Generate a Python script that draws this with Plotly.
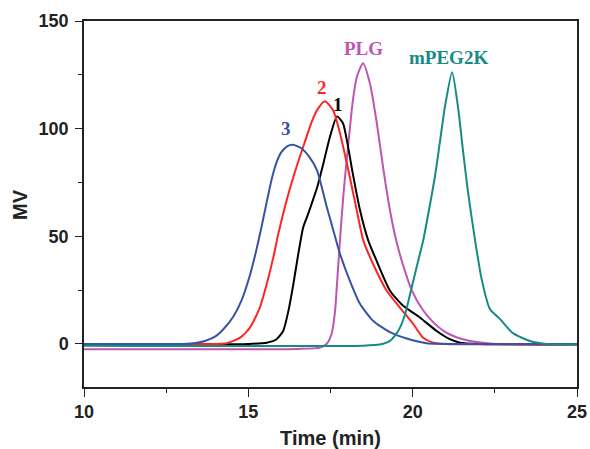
import plotly.graph_objects as go

# ---- data ----
x3 = [10, 13.0, 13.4, 13.7, 14.0, 14.24, 14.54, 14.8, 15.05, 15.25, 15.41, 15.54, 15.71, 15.85, 16.0,
      16.18, 16.36, 16.6, 16.85, 17.09, 17.38, 17.6, 17.79, 18.09, 18.4, 18.8, 19.31, 19.82, 20.43, 22, 25]
y3 = [0, 0, 0.4, 1.5, 3.5, 6.8, 12.6, 20.5, 32, 44, 55, 64.5, 76.5, 84, 89,
      91.8, 92.5, 91, 87, 80.6, 64, 52, 41.8, 29.3, 18.5, 10.7, 5.5, 2.5, 0.3, 0, 0]

x2 = [10, 14.0, 14.34, 14.75, 15.05, 15.35, 15.56, 15.76, 15.91, 16.17, 16.42, 16.7, 16.95, 17.13, 17.33,
      17.58, 17.79, 18.0, 18.3, 18.5, 18.8, 19.21, 19.61, 20.02, 20.32, 20.63, 21, 25]
y2 = [0, 0, 0.3, 2.9, 7.6, 16.9, 27.8, 40.2, 51, 67, 80, 93, 104, 109.5, 112.7,
      108.5, 97.8, 83.8, 62, 48, 37, 24.7, 16.9, 9.2, 2.9, 0.6, 0, 0]

x1 = [10, 15.0, 15.56, 15.86, 16.06, 16.22, 16.37, 16.52, 16.67, 16.82, 16.96, 17.1, 17.27, 17.48,
      17.7, 17.88, 18.0, 18.18, 18.4, 18.65, 18.9, 19.31, 19.71, 20.22, 20.73, 21.13, 21.44, 22, 25]
y1 = [0, 0, 0.6, 2.2, 6, 15.4, 27.8, 41.8, 54.2, 60.4, 66.6, 73, 83, 96,
      105.7, 102.5, 94.5, 79, 62, 48, 38.7, 24.7, 17.7, 12.3, 6, 2.2, 0.6, 0, 0]

x_plg = [10, 16.5, 17.18, 17.38, 17.53, 17.64, 17.7, 17.77, 17.84, 17.92, 18.03, 18.18, 18.3, 18.49,
         18.7, 18.91, 19.1, 19.31, 19.5, 19.7, 19.97, 20.3, 20.6, 21.0, 21.5, 22.0, 22.6, 25]
y_plg = [-2.5, -2.3, -1.7, 0, 4.5, 15.4, 28.5, 44, 59, 74, 91, 113, 124, 130.4,
         121, 102.5, 82, 62, 48, 37, 25, 16, 10.5, 5.5, 2.3, 0.8, 0, -0.5]

x_peg = [10, 18.5, 19.0, 19.31, 19.56, 19.77, 19.92, 20.07, 20.22, 20.32, 20.47, 20.68, 20.83, 20.98,
         21.2, 21.38, 21.53, 21.68, 21.9, 22.1, 22.35, 22.66, 23.05, 23.57, 24.1, 25]
y_peg = [-0.8, -0.8, -0.3, 1.4, 6, 13.8, 23.1, 32.5, 41.8, 48, 60, 78, 94, 110,
         126.2, 110, 90, 71, 48, 30, 16.2, 11.5, 5, 1.4, 0, -0.3]

series = [
    ("PLG", x_plg, y_plg, "#BE55B0"),
    ("1", x1, y1, "#000000"),
    ("2", x2, y2, "#FF2424"),
    ("3", x3, y3, "#3753A5"),
    ("mPEG2K", x_peg, y_peg, "#168A85"),
]

labels = [
    ("3", 16.14, 100, "#3753A5"),
    ("2", 17.24, 119, "#FF2424"),
    ("1", 17.73, 111, "#000000"),
    ("PLG", 18.49, 137, "#BE55B0"),
    ("mPEG2K", 21.1, 133, "#168A85"),
]

fig = go.Figure()
for name, xs, ys, col in series:
    fig.add_trace(go.Scatter(x=xs, y=ys, mode="lines", name=name,
                             line=dict(color=col, width=2, shape="spline", smoothing=0.6),
                             showlegend=False, hoverinfo="skip"))

for txt, lx, ly, col in labels:
    fig.add_annotation(x=lx, y=ly, text=txt, showarrow=False,
                       font=dict(family="Liberation Serif, Times New Roman, serif",
                                 size=19, color=col, weight="bold"))

title_font = dict(family="Liberation Sans, Arial, sans-serif", size=20, color="#222222", weight="bold")
axis_font = dict(family="Liberation Sans, Arial, sans-serif", size=18, color="#222222", weight="bold")

# y-axis title as a rotated annotation (placed in the left margin)
fig.add_annotation(text="MV", xref="paper", yref="paper", x=-0.13, y=0.5,
                   xanchor="center", yanchor="middle", textangle=-90, showarrow=False,
                   font=title_font)

fig.update_layout(
    width=590, height=449,
    margin=dict(l=84, r=13, t=21, b=62, autoexpand=False),
    paper_bgcolor="white", plot_bgcolor="white",
    xaxis=dict(range=[10, 25], tick0=10, dtick=5, ticks="outside", ticklen=8, tickwidth=1.3,
               tickcolor="#222222", showline=True, linecolor="#222222", linewidth=1.5, mirror=True,
               showgrid=False, zeroline=False, tickfont=axis_font, automargin=False,
               minor=dict(dtick=2.5, tick0=10, ticks="outside", ticklen=4, tickwidth=1.3, tickcolor="#222222"),
               title=dict(text="Time (min)", font=title_font, standoff=10)),
    yaxis=dict(range=[-20, 150], tick0=0, dtick=50, ticks="outside", ticklen=7, tickwidth=1.3,
               tickcolor="#222222", showline=True, linecolor="#222222", linewidth=1.5, mirror=True,
               showgrid=False, zeroline=False, tickfont=axis_font, automargin=False,
               ticklabelstandoff=3,
               minor=dict(dtick=25, tick0=0, ticks="outside", ticklen=4, tickwidth=1.3, tickcolor="#222222")),
)

fig.write_html("out.html", config={"displayModeBar": False},
               post_script="document.body.style.margin='0';document.body.style.overflow='hidden';")
